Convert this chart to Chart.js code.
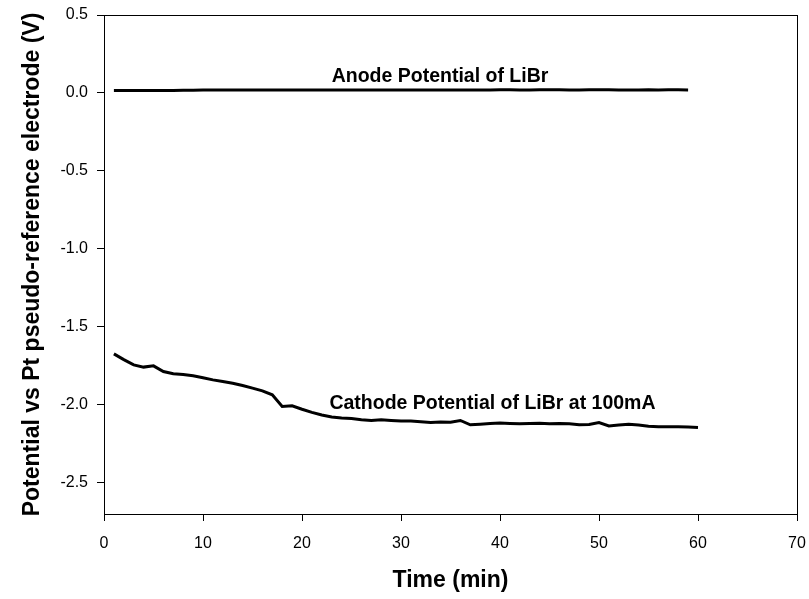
<!DOCTYPE html>
<html>
<head>
<meta charset="utf-8">
<script src="https://cdn.jsdelivr.net/npm/chart.js@4.4.0/dist/chart.umd.min.js"></script>
<style>
html,body{margin:0;padding:0;background:#fff;}
#wrap{width:809px;height:599px;position:relative;}
</style>
</head>
<body>
<div id="wrap"><canvas id="c" width="809" height="599"></canvas></div>
<script>
// ---- data ----
const cathodeTime = [1,2,3,4,5,6,7,8,9,10,11,12,13,14,15,16,17,18,19,20,21,22,23,24,25,26,27,28,29,30,31,32,33,34,35,36,37,38,39,40,41,42,43,44,45,46,47,48,49,50,51,52,53,54,55,56,57,58,59,60];
const cathodeValues = [-1.673,-1.710,-1.744,-1.758,-1.750,-1.786,-1.800,-1.806,-1.814,-1.826,-1.840,-1.850,-1.861,-1.876,-1.893,-1.910,-1.936,-2.010,-2.006,-2.028,-2.048,-2.065,-2.078,-2.084,-2.088,-2.096,-2.100,-2.096,-2.100,-2.103,-2.104,-2.108,-2.113,-2.110,-2.112,-2.100,-2.128,-2.124,-2.120,-2.117,-2.120,-2.122,-2.120,-2.118,-2.122,-2.120,-2.122,-2.128,-2.126,-2.113,-2.135,-2.130,-2.125,-2.130,-2.138,-2.140,-2.140,-2.140,-2.142,-2.145];
const anodeTime = [1,2,3,4,5,6,7,8,9,10,11,12,13,14,15,16,17,18,19,20,21,22,23,24,25,26,27,28,29,30,31,32,33,34,35,36,37,38,39,40,41,42,43,44,45,46,47,48,49,50,51,52,53,54,55,56,57,58,59];
const anodeValues = [0.016,0.016,0.016,0.016,0.016,0.016,0.016,0.017,0.017,0.019,0.019,0.019,0.019,0.019,0.019,0.019,0.019,0.019,0.019,0.019,0.019,0.019,0.019,0.019,0.019,0.019,0.019,0.019,0.019,0.019,0.019,0.019,0.019,0.019,0.019,0.019,0.019,0.019,0.019,0.020,0.020,0.019,0.019,0.020,0.021,0.020,0.019,0.019,0.020,0.020,0.020,0.019,0.019,0.019,0.020,0.019,0.020,0.020,0.019];
const xTicks = [0,10,20,30,40,50,60,70];
const yTicks = [-2.5,-2.0,-1.5,-1.0,-0.5,0.0,0.5];
const labelTexts = ["Anode Potential of LiBr", "Cathode Potential of LiBr at 100mA"];
const labelAnchors = [[33.94, 0.07], [39.24, -2.025]];
const xTitle = "Time (min)";
const yTitle = "Potential vs Pt pseudo-reference electrode (V)";

const FONT = "'Liberation Sans', Arial, Helvetica, sans-serif";

const toXY = (xs, ys) => xs.map((x, i) => ({x: x, y: ys[i]}));

const borderPlugin = {
  id: 'frame',
  afterDraw(chart) {
    const {ctx, chartArea: a} = chart;
    ctx.save();
    ctx.strokeStyle = '#000';
    ctx.lineWidth = 1;
    ctx.strokeRect(Math.round(a.left) + 0.5, Math.round(a.top) + 0.5, Math.round(a.right - a.left), Math.round(a.bottom - a.top));
    ctx.restore();
  }
};

const labelPlugin = {
  id: 'seriesLabels',
  afterDatasetsDraw(chart) {
    const {ctx} = chart;
    const xs = chart.scales.x, ys = chart.scales.y;
    ctx.save();
    ctx.fillStyle = '#000';
    ctx.font = 'bold 19.5px ' + FONT;
    ctx.textAlign = 'center';
    ctx.textBaseline = 'alphabetic';
    labelTexts.forEach((t, i) => {
      ctx.fillText(t, xs.getPixelForValue(labelAnchors[i][0]), ys.getPixelForValue(labelAnchors[i][1]));
    });
    ctx.restore();
  }
};

new Chart(document.getElementById('c'), {
  type: 'line',
  data: {
    datasets: [
      {data: toXY(anodeTime, anodeValues), borderColor: '#000', borderWidth: 3, pointRadius: 0, tension: 0, fill: false},
      {data: toXY(cathodeTime, cathodeValues), borderColor: '#000', borderWidth: 3, pointRadius: 0, tension: 0, fill: false}
    ]
  },
  options: {
    responsive: false,
    animation: false,
    devicePixelRatio: 1,
    layout: {padding: {top: 15, right: 12, left: 0, bottom: 0}},
    plugins: {legend: {display: false}, tooltip: {enabled: false}},
    scales: {
      x: {
        type: 'linear', min: 0, max: 70,
        afterBuildTicks(s) { s.ticks = xTicks.map(v => ({value: v})); },
        afterFit(s) { s.height = 85; s.paddingLeft = 0; s.paddingRight = 0; },
        grid: {drawOnChartArea: false, drawTicks: true, tickLength: 7, color: '#000', lineWidth: 1},
        border: {display: true, color: '#000', width: 1},
        ticks: {color: '#000', font: {family: FONT, size: 16}, padding: 13, maxRotation: 0, callback: v => String(v)},
        title: {display: true, text: xTitle, color: '#000', font: {family: FONT, size: 23, weight: 'bold'}, padding: {top: 0, bottom: 5}}
      },
      y: {
        type: 'linear', min: -2.7, max: 0.5,
        afterBuildTicks(s) { s.ticks = yTicks.map(v => ({value: v})); },
        afterFit(s) { s.width = 104; s.paddingTop = 0; s.paddingBottom = 0; },
        grid: {drawOnChartArea: false, drawTicks: true, tickLength: 7, color: '#000', lineWidth: 1},
        border: {display: true, color: '#000', width: 1},
        ticks: {color: '#000', font: {family: FONT, size: 16}, padding: 9, callback: v => v.toFixed(1)},
        title: {display: true, text: yTitle, color: '#000', font: {family: FONT, size: 23, weight: 'bold'}, padding: {top: 19, bottom: 0}}
      }
    }
  },
  plugins: [borderPlugin, labelPlugin]
});
</script>
</body>
</html>
